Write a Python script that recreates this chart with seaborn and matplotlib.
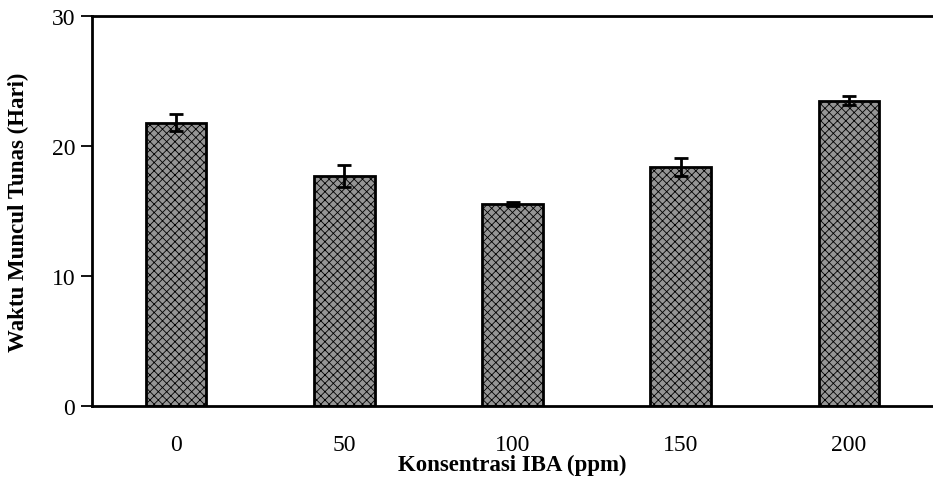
import matplotlib
matplotlib.use("Agg")
import matplotlib.pyplot as plt
import seaborn as sns
import pandas as pd
import numpy as np

categories = ["0", "50", "100", "150", "200"]
values = [21.8, 17.7, 15.55, 18.4, 23.5]
errors = [0.65, 0.85, 0.15, 0.7, 0.35]

sns.set_theme(style="white")
plt.rcParams['font.family'] = ['Liberation Serif', 'DejaVu Serif']
plt.rcParams['text.color'] = 'black'
plt.rcParams['axes.labelcolor'] = 'black'
plt.rcParams['xtick.color'] = 'black'
plt.rcParams['ytick.color'] = 'black'
plt.rcParams['hatch.linewidth'] = 0.6
plt.rcParams['hatch.color'] = '#d4d4d4'

df = pd.DataFrame({"conc": categories, "val": values})

fig = plt.figure(figsize=(9.33, 4.81), dpi=100)
ax = fig.add_axes([92/933, 1-407/481, 1-92/933, (407-17)/481])
sns.barplot(data=df, x="conc", y="val", ax=ax, color="#959595", width=0.36,
            edgecolor="black", linewidth=2, saturation=1, errorbar=None)
for p in ax.patches:
    p.set_hatch('xxxx')
ax.errorbar(x=np.arange(len(categories)), y=values, yerr=errors, fmt='none',
            ecolor='black', elinewidth=2, capsize=5, capthick=2)

ax.set_ylim(0, 30)
ax.set_yticks([0, 10, 20, 30])
ax.set_xlim(-0.5, 4.5)
ax.tick_params(axis='y', which='both', left=True, length=8, width=1.3, labelsize=17, pad=4, color='black', labelcolor='black')
ax.tick_params(axis='x', bottom=False, labelsize=17, pad=14, labelcolor='black')
for s in ['left', 'bottom', 'top']:
    ax.spines[s].set_visible(True)
    ax.spines[s].set_color('black')
    ax.spines[s].set_linewidth(2)
ax.spines['right'].set_visible(False)
ax.set_xlabel("Konsentrasi IBA (ppm)", fontsize=16.5, fontweight='bold', labelpad=-1, color='black')
ax.set_ylabel("Waktu Muncul Tunas (Hari)", fontsize=16.5, fontweight='bold', labelpad=16, color='black')
ax.grid(False)

fig.savefig("out.png", dpi=100)
